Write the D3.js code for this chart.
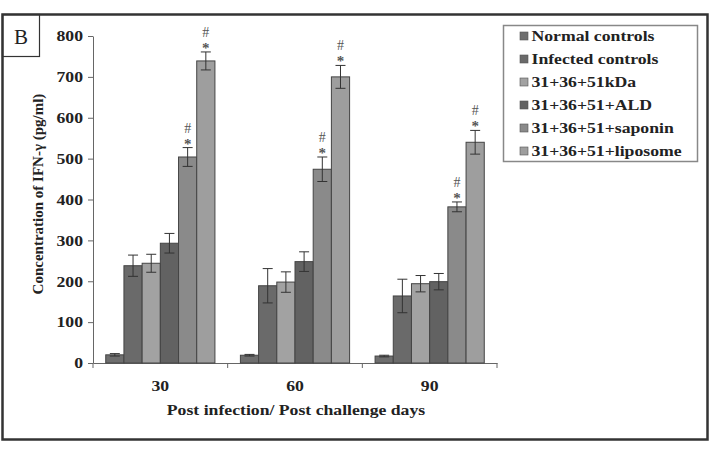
<!DOCTYPE html>
<html>
<head>
<meta charset="utf-8">
<script src="https://cdn.jsdelivr.net/npm/d3@7"></script>
<style>
  body { margin: 0; background: #fff; }
  text { font-family: "Liberation Serif", "Times New Roman", serif; }
</style>
</head>
<body>
<div id="chart"></div>
<script>
// days post infection / post challenge
const days = ["30", "60", "90"];
const groups = ["Normal controls", "Infected controls", "31+36+51kDa", "31+36+51+ALD", "31+36+51+saponin", "31+36+51+liposome"];
const colors = ["#6e6e6e", "#6a6a6a", "#a2a2a2", "#626262", "#8a8a8a", "#9e9e9e"];

// IFN-gamma (pg/ml), one array per group, values at day 30, 60, 90
const normal = [20, 19, 17];
const infected = [238, 189, 164];
const kda = [244, 198, 194];
const ald = [293, 248, 199];
const saponin = [504, 474, 382];
const liposome = [739, 700, 540];

const normalErr = [3, 2, 2];
const infectedErr = [26, 42, 41];
const kdaErr = [22, 25, 20];
const aldErr = [24, 24, 20];
const saponinErr = [23, 30, 12];
const liposomeErr = [22, 28, 29];

// significance marks above each group's bars
const marks = ["", "", "", "", "*#", "*#"];

const yTicks = [0, 100, 200, 300, 400, 500, 600, 700, 800];

const values = [normal, infected, kda, ald, saponin, liposome];
const errors = [normalErr, infectedErr, kdaErr, aldErr, saponinErr, liposomeErr];

// the figure's lettering is a bit wider than the font
const stretch = 1.18;

function main() {
    const width = 720, height = 452;
    const svg = d3.select("#chart").append("svg")
        .attr("width", width)
        .attr("height", height);

    // outer frame
    svg.append("rect")
        .attr("x", 2.5).attr("y", 14.5)
        .attr("width", 705).attr("height", 425)
        .attr("fill", "none")
        .attr("stroke", "#333")
        .attr("stroke-width", 2.5);

    // panel letter
    svg.append("rect")
        .attr("x", 2.5).attr("y", 14.5)
        .attr("width", 37).attr("height", 42)
        .attr("fill", "none")
        .attr("stroke", "#333")
        .attr("stroke-width", 1.2);
    svg.append("text")
        .attr("x", 21).attr("y", 44)
        .attr("text-anchor", "middle")
        .attr("font-size", "21px")
        .attr("fill", "#222")
        .text("B");

    const x0 = d3.scaleBand().domain(days).range([93, 497]).padding(0);
    const x1 = d3.scaleBand().domain(groups).range([0, x0.bandwidth()])
        .paddingInner(0).paddingOuter(0.7);
    const y = d3.scaleLinear().domain([0, 800]).range([363, 36]);

    // y axis
    const yAxis = svg.append("g")
        .attr("transform", "translate(93,0)")
        .call(d3.axisLeft(y).tickValues(yTicks).tickSize(5).tickSizeOuter(0).tickPadding(6));
    yAxis.selectAll("path, line").attr("stroke", "#666");
    yAxis.selectAll("text")
        .attr("x", -10 / stretch)
        .attr("transform", "scale(" + stretch + ",1)")
        .attr("font-size", "15px")
        .attr("font-weight", "bold")
        .attr("fill", "#222");

    // x axis
    const xAxis = svg.append("g")
        .attr("transform", "translate(0,363)")
        .call(d3.axisBottom(x0).tickSize(0).tickPadding(17));
    xAxis.select("path").attr("stroke", "#666");
    xAxis.selectAll("text")
        .attr("transform", "scale(" + stretch + ",1)")
        .attr("font-size", "15px")
        .attr("font-weight", "bold")
        .attr("fill", "#222");
    const bounds = days.map(d => x0(d)).concat([x0(days[days.length - 1]) + x0.bandwidth()]);
    xAxis.selectAll(".bound")
        .data(bounds)
        .enter()
        .append("line")
        .attr("class", "bound")
        .attr("x1", d => d).attr("x2", d => d)
        .attr("y1", 0).attr("y2", 5)
        .attr("stroke", "#666");

    // bars
    const plot = svg.append("g");
    groups.forEach((g, gi) => {
        const rows = days.map((d, di) => ({ day: d, v: values[gi][di], e: errors[gi][di] }));
        const xb = d => x0(d.day) + x1(g);
        const cx = d => xb(d) + x1.bandwidth() / 2;

        plot.selectAll(".bar" + gi)
            .data(rows)
            .enter()
            .append("rect")
            .attr("class", "bar" + gi)
            .attr("x", d => xb(d))
            .attr("y", d => y(d.v))
            .attr("width", x1.bandwidth())
            .attr("height", d => y(0) - y(d.v))
            .attr("fill", colors[gi])
            .attr("stroke", "#444")
            .attr("stroke-width", 1);

        const err = plot.selectAll(".err" + gi)
            .data(rows)
            .enter()
            .append("g")
            .attr("class", "err" + gi)
            .attr("stroke", "#333")
            .attr("stroke-width", 1);
        err.append("line")
            .attr("x1", cx).attr("x2", cx)
            .attr("y1", d => y(d.v + d.e)).attr("y2", d => y(d.v - d.e));
        err.append("line")
            .attr("x1", d => cx(d) - 5).attr("x2", d => cx(d) + 5)
            .attr("y1", d => y(d.v + d.e)).attr("y2", d => y(d.v + d.e));
        err.append("line")
            .attr("x1", d => cx(d) - 5).attr("x2", d => cx(d) + 5)
            .attr("y1", d => y(d.v - d.e)).attr("y2", d => y(d.v - d.e));

        if (marks[gi].includes("*")) {
            plot.selectAll(".star" + gi)
                .data(rows)
                .enter()
                .append("text")
                .attr("class", "star" + gi)
                .attr("x", cx)
                .attr("y", d => y(d.v + d.e) + 1)
                .attr("text-anchor", "middle")
                .attr("font-size", "15px")
                .attr("font-weight", "bold")
                .attr("fill", "#555")
                .text("*");
        }
        if (marks[gi].includes("#")) {
            plot.selectAll(".hash" + gi)
                .data(rows)
                .enter()
                .append("text")
                .attr("class", "hash" + gi)
                .attr("x", cx)
                .attr("y", d => y(d.v + d.e) - 15)
                .attr("text-anchor", "middle")
                .attr("font-size", "14px")
                .attr("fill", "#555")
                .text("#");
        }
    });

    // axis titles
    svg.append("text")
        .attr("transform", "translate(43,194) rotate(-90)")
        .attr("text-anchor", "middle")
        .attr("font-size", "15px")
        .attr("font-weight", "bold")
        .attr("fill", "#222")
        .text("Concentration of IFN-\u03b3 (pg/ml)");
    svg.append("text")
        .attr("transform", "translate(296,415) scale(" + stretch + ",1)")
        .attr("text-anchor", "middle")
        .attr("font-size", "15px")
        .attr("font-weight", "bold")
        .attr("fill", "#222")
        .text("Post infection/ Post challenge days");

    // legend
    const legend = svg.append("g");
    legend.append("rect")
        .attr("x", 503.5).attr("y", 25.5)
        .attr("width", 194).attr("height", 136)
        .attr("fill", "#fff")
        .attr("stroke", "#888")
        .attr("stroke-width", 1.5);
    const items = legend.selectAll(".item")
        .data(groups)
        .enter()
        .append("g")
        .attr("class", "item")
        .attr("transform", (d, i) => "translate(520," + (36 + i * 23) + ")");
    items.append("rect")
        .attr("x", 0).attr("y", -4)
        .attr("width", 8).attr("height", 8)
        .attr("fill", (d, i) => colors[i])
        .attr("stroke", "#555")
        .attr("stroke-width", 0.6);
    items.append("text")
        .attr("x", 11.5 / stretch).attr("y", 5)
        .attr("transform", "scale(" + stretch + ",1)")
        .attr("font-size", "15px")
        .attr("font-weight", "bold")
        .attr("fill", "#222")
        .text(d => d);
}
main();
</script>
</body>
</html>
